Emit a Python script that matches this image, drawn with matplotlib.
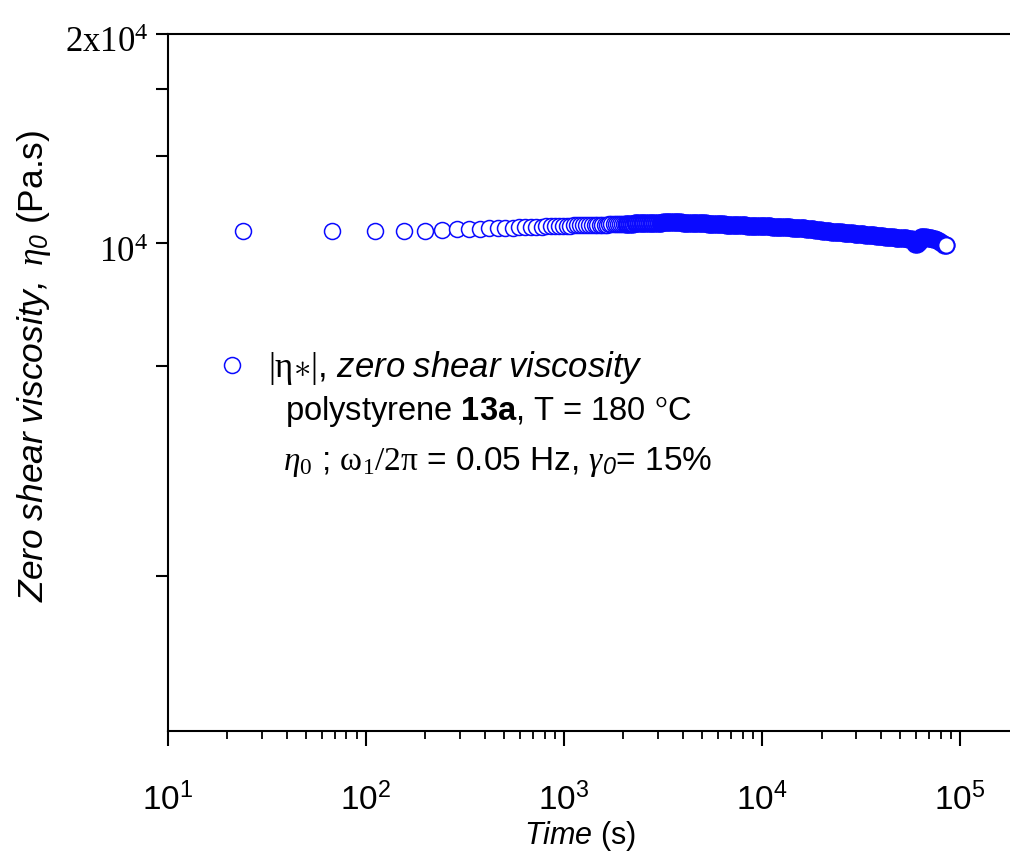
import numpy as np
import matplotlib
matplotlib.use("Agg")
import matplotlib.pyplot as plt
from matplotlib.ticker import FixedLocator, FuncFormatter, NullFormatter, LogLocator
from matplotlib.lines import Line2D
from matplotlib.transforms import ScaledTranslation

plt.rcParams['font.family'] = ['Liberation Sans', 'DejaVu Sans']
plt.rcParams['mathtext.fontset'] = 'custom'
plt.rcParams['mathtext.rm'] = 'Liberation Serif'
plt.rcParams['mathtext.it'] = 'Liberation Serif:italic'
plt.rcParams['mathtext.bf'] = 'Liberation Sans:bold'
plt.rcParams['mathtext.sf'] = 'Liberation Sans'
plt.rcParams['mathtext.cal'] = 'Liberation Sans:italic'

# ---------------- data ----------------
time_s = [
    24, 68, 112, 156, 200, 244, 288, 332, 376, 420, 464, 508, 552, 596, 640,
    684, 728, 772, 816, 860, 904, 948, 992, 1036, 1080, 1124, 1168, 1212,
    1256, 1300, 1344, 1388, 1432, 1476, 1520, 1564, 1608, 1652, 1696, 1740,
    1784, 1828, 1872, 1916, 1960, 2004,
    2050, 2093, 2137, 2182, 2228, 2275, 2323, 2372, 2422, 2473, 2525, 2578,
    2632, 2687, 2743, 2801, 2860, 2920, 2981, 3044, 3108, 3173, 3240, 3308,
    3377, 3448, 3520, 3594, 3670, 3747, 3826, 3906, 3988, 4072, 4158, 4245,
    4334, 4425, 4518, 4613, 4710, 4809, 4910, 5013, 5118, 5226, 5335, 5447,
    5562, 5679, 5798, 5920, 6044, 6171, 6301, 6433, 6568, 6706, 6847, 6991,
    7138, 7288, 7441, 7597, 7757, 7920, 8086, 8256, 8429, 8606, 8787, 8972,
    9160, 9352, 9549, 9749, 9954, 10163, 10377, 10595, 10817, 11044, 11276,
    11513, 11755, 12002, 12254, 12511, 12774, 13042, 13316, 13596, 13881,
    14173, 14471, 14775, 15085, 15402, 15725, 16055, 16393, 16737, 17088,
    17447, 17814, 18188, 18570, 18960, 19358, 19764, 20179, 20603, 21036,
    21478, 21929, 22389, 22859, 23339, 23830, 24330, 24841, 25363, 25895,
    26439, 26994, 27561, 28140, 28731, 29335, 29951, 30580, 31222, 31878,
    32547, 33230, 33928, 34641, 35368, 36111, 36869, 37643, 38434, 39241,
    40065, 40906, 41765, 42642, 43538, 44452, 45385, 46338, 47311, 48305,
    49319, 50355, 51412, 52492, 53594, 54719, 55868, 57041, 58239, 59462,
    60711, 61986, 63288, 64617, 65974, 67359, 68774, 70218, 71692, 73198,
    74735, 76304, 77907, 79543, 81213, 82919, 84660, 85270,
]

eta0_pas = [
    10414, 10420, 10420, 10422, 10425, 10460, 10475, 10490, 10500, 10510,
    10520, 10527, 10535, 10545, 10552, 10560, 10565, 10572, 10578, 10583,
    10590, 10595, 10600, 10604, 10608, 10612, 10615, 10618, 10621, 10624,
    10627, 10629, 10632, 10635, 10637, 10640, 10643, 10645, 10648, 10650,
    10653, 10656, 10658, 10661, 10664, 10667,
    10669, 10672, 10675, 10678, 10681, 10684, 10687, 10690, 10693, 10695,
    10698, 10700, 10703, 10705, 10707, 10709, 10711, 10712, 10714, 10715,
    10716, 10717, 10718, 10719, 10719, 10720, 10720, 10720, 10719, 10719,
    10718, 10717, 10716, 10714, 10712, 10710, 10708, 10705, 10702, 10699,
    10696, 10693, 10690, 10690, 10686, 10682, 10678, 10674, 10670, 10666,
    10662, 10659, 10656, 10653, 10650, 10647, 10644, 10641, 10638, 10635,
    10632, 10629, 10626, 10623, 10620, 10617, 10614, 10612, 10610, 10608,
    10606, 10604, 10602, 10600, 10598, 10596, 10594, 10591, 10588, 10585,
    10582, 10579, 10576, 10573, 10570, 10567, 10564, 10561, 10558, 10554,
    10550, 10546, 10542, 10538, 10534, 10530, 10526, 10522, 10517, 10512,
    10507, 10501, 10495, 10489, 10482, 10475, 10468, 10460, 10452, 10444,
    10428, 10423, 10418, 10412, 10407, 10402, 10397, 10392, 10386, 10381,
    10376, 10371, 10366, 10360, 10355, 10350, 10345, 10339, 10333, 10327,
    10321, 10315, 10309, 10303, 10297, 10291, 10285, 10279, 10273, 10267,
    10261, 10255, 10249, 10243, 10237, 10231, 10225, 10219, 10213, 10207,
    10201, 10196, 10191, 10186, 10181, 10176, 10171, 10166, 10161, 10156,
    10151, 10100, 9990, 9975, 10060, 10200, 10215, 10210, 10205, 10198,
    10190, 10180, 10165, 10150, 10120, 10080, 10040, 10000, 9965, 9945,
    9934,
]
n_sparse = 46   # the first readings are resolved as single rings
n_solid = 66    # beyond this the rings overlap into a solid band

x_limits = (10, 2.0e5)
y_limits = (2000, 20000)
y_major_ticks = [1e4, 2e4]
y_major_labels = {1e4: r"$\mathrm{10^{4}}$", 2e4: r"$\mathrm{2x10^{4}}$"}
y_minor_ticks = [3333.33, 6666.67, 13333.3, 16666.7]

legend_label = r"$\mathrm{|\eta{\ast}|}$, $\mathcal{zero\ shear\ viscosity}$"
note_line2 = r"polystyrene $\mathbf{13a}$, T = 180 $\mathrm{°}$C"
note_line3 = r"$\eta_0$ ; $\mathrm{\omega_1/2\pi}$ = 0.05 Hz, $\gamma_{\mathcal{0}}$= 15%"

# ---------------- figure ----------------
W, H = 1010, 857
fig = plt.figure(figsize=(W / 100, H / 100), dpi=100)
left_px, right_px, top_px, bottom_px = 167.5, 1019.7, 33.5, 731
ax = fig.add_axes([left_px / W, 1 - bottom_px / H,
                   (right_px - left_px) / W, (bottom_px - top_px) / H])

blue = '#0a0aff'
ax.plot(time_s[:n_sparse], eta0_pas[:n_sparse], ls='none', marker='o', ms=11.5,
        mfc='white', mec=blue, mew=1.1, zorder=3)
ax.plot(time_s[n_sparse:n_solid], eta0_pas[n_sparse:n_solid], ls='none', marker='o',
        ms=11.5, mfc='white', mec=blue, mew=1.6, zorder=3)
ax.plot(time_s[n_solid:-1], eta0_pas[n_solid:-1], ls='none', marker='o', ms=11.5,
        mfc=blue, mec=blue, mew=1.6, zorder=3)
ax.plot(time_s[-1:], eta0_pas[-1:], ls='none', marker='o', ms=11.5,
        mfc='white', mec=blue, mew=1.3, zorder=4)

ax.set_xscale('log')
ax.set_yscale('log')
ax.set_xlim(*x_limits)
ax.set_ylim(*y_limits)

for s in ['left', 'bottom', 'top']:
    ax.spines[s].set_linewidth(1.5)
ax.spines['right'].set_visible(False)

ax.xaxis.set_major_locator(LogLocator(base=10, numticks=10))
ax.xaxis.set_minor_locator(LogLocator(base=10, subs=np.arange(2, 10), numticks=20))
ax.xaxis.set_major_formatter(FuncFormatter(
    lambda v, p: r"$\mathsf{10^{%d}}$" % int(round(np.log10(v)))))
ax.xaxis.set_minor_formatter(NullFormatter())

ax.yaxis.set_major_locator(FixedLocator(y_major_ticks))
ax.yaxis.set_minor_locator(FixedLocator(y_minor_ticks))
ax.yaxis.set_major_formatter(FuncFormatter(lambda v, p: y_major_labels.get(v, "")))
ax.yaxis.set_minor_formatter(NullFormatter())

ax.tick_params(axis='x', which='major', direction='out', length=11, width=1.5,
               labelsize=24, pad=26, top=False)
ax.tick_params(axis='x', which='minor', direction='out', length=6, width=1.3, top=False)
ax.tick_params(axis='y', which='both', direction='out', length=9, width=1.5,
               labelsize=25, pad=5, right=False)

down = ScaledTranslation(0, -6 / 100, fig.dpi_scale_trans)
for lab in ax.get_yticklabels():
    lab.set_transform(lab.get_transform() + down)

ax.set_xlabel(r"$\mathcal{Time}$ (s)", fontsize=22)
ax.xaxis.set_label_coords(0.484, -0.150)
ax.xaxis.label.set_va('center')
ax.set_ylabel(r"$\mathcal{Zero\ shear\ viscosity,}\ \eta_{\mathcal{0}}$ (Pa.s)", fontsize=25.5)
ax.yaxis.set_label_coords(-0.157, 0.524)
ax.yaxis.label.set_va('center')

handle = Line2D([], [], ls='none', marker='o', ms=11.5, mfc='white', mec=blue, mew=1.1)
ax.legend([handle], [legend_label], loc='center left', bbox_to_anchor=(0.0553, 0.52),
          frameon=False, fontsize=25, borderpad=0, borderaxespad=0,
          handlelength=1.0, handletextpad=0.54)

ax.text(0.138, 0.4456, note_line2, transform=ax.transAxes, fontsize=23.5, va='baseline')
ax.text(0.136, 0.374, note_line3, transform=ax.transAxes, fontsize=24, va='baseline')

fig.savefig('out.png', dpi=100)
